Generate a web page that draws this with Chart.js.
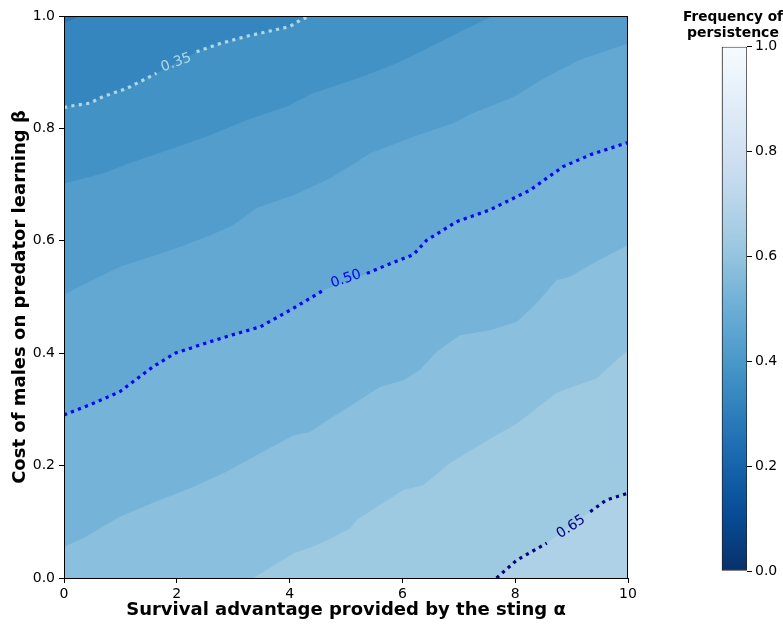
<!DOCTYPE html>
<html><head><meta charset="utf-8">
<script src="https://cdn.jsdelivr.net/npm/chart.js@4.4.1/dist/chart.umd.min.js"></script>
<style>
html,body{margin:0;padding:0;background:#fff;width:783px;height:624px;overflow:hidden;}
#main{position:absolute;left:0;top:0;}
#cbar{position:absolute;left:683px;top:0;}
</style></head><body>
<canvas id="main" width="783" height="624" style="width:783px;height:624px"></canvas>
<canvas id="cbar" width="100" height="624" style="width:100px;height:624px"></canvas>
<script>
// ---------------- DATA ----------------
// Axis ranges
const alphaRange = [0, 10];
const betaRange = [0, 1];
// Filled-contour levels (frequency of persistence)
const levels = [0.30, 0.35, 0.40, 0.45, 0.50, 0.55, 0.60, 0.65];
const levelStep = 0.05;
// Contour boundaries, as [alpha, beta] pairs (one array per level)
const contour030 = [[0,0.987],[0.28,1.0]];
const contour035 = [[0,0.837],[0.08,0.839],[0.46,0.845],[0.70,0.857],[1.11,0.871],[1.64,0.898],[2.35,0.9365],[2.77,0.951],[3.24,0.964],[3.77,0.976],[4.0,0.981],[4.18,0.992],[4.36,1.0]];
const contour040 = [[0,0.702],[0.70,0.720],[1.11,0.736],[2.0,0.767],[2.59,0.788],[3.24,0.815],[3.95,0.839],[4.4,0.862],[5.31,0.893],[5.90,0.916],[6.49,0.945],[7.08,0.975],[7.61,1.0]];
const contour045 = [[0,0.504],[0.3,0.52],[0.99,0.554],[2.0,0.587],[2.6,0.61],[3.0,0.628],[3.42,0.659],[4.07,0.681],[4.71,0.711],[5.25,0.744],[5.43,0.756],[6.19,0.785],[6.90,0.809],[7.2,0.825],[7.97,0.856],[8.56,0.892],[9.15,0.922],[10,0.951]];
const contour050 = [[0,0.29],[0.5,0.31],[0.99,0.3315],[1.58,0.376],[1.97,0.40],[2.59,0.4205],[3.0,0.433],[3.48,0.447],[4.07,0.48],[4.6,0.512],[5.37,0.542],[5.8,0.56],[6.19,0.575],[6.43,0.601],[6.96,0.634],[7.55,0.655],[8.26,0.69],[8.85,0.732],[9.33,0.753],[10,0.775]];
const contour055 = [[0,0.0557],[0.34,0.0706],[0.99,0.109],[1.6,0.135],[2.29,0.162],[2.88,0.189],[3.48,0.222],[4.07,0.254],[4.36,0.26],[4.72,0.284],[5.25,0.317],[5.60,0.340],[6.02,0.352],[6.31,0.370],[6.61,0.403],[7.02,0.432],[7.55,0.441],[8.03,0.456],[8.38,0.489],[8.73,0.530],[8.97,0.536],[9.44,0.563],[10,0.5925]];
const contour060 = [[3.36,0],[4.07,0.044],[4.42,0.056],[4.72,0.07],[5.07,0.088],[5.19,0.103],[6.02,0.157],[6.37,0.165],[6.84,0.204],[7.43,0.240],[8.03,0.275],[8.38,0.302],[8.73,0.329],[9.09,0.343],[9.44,0.355],[10,0.406]];
const contour065 = [[7.67,0],[8.03,0.032],[8.56,0.062],[9.33,0.118],[9.62,0.139],[10,0.151]];
const contours = [contour030, contour035, contour040, contour045, contour050, contour055, contour060, contour065];
// Labelled contour lines
const lineLevels = [0.35, 0.50, 0.65];
const lineLabels = ['0.35', '0.50', '0.65'];
const labelAlpha = [1.99, 5.0, 8.99];
const labelBeta = [0.917, 0.532, 0.091];
const gapFrom = [1.64, 4.6, 8.56];   // line break around the label (alpha)
const gapTo = [2.35, 5.37, 9.33];
// Colorbar ticks
const cbarTicks = [0, 0.2, 0.4, 0.6, 0.8, 1.0];
// Blues colormap (reversed in use)
const bluesStops = ['#f7fbff','#deebf7','#c6dbef','#9ecae1','#6baed6','#4292c6','#2171b5','#08519c','#08306b'];

// ---------------- STYLE ----------------
const FONT = "'DejaVu Sans', 'Liberation Sans', sans-serif";
const lineColors = ['#add8e6', '#0000ff', '#000080'];
const labelRotation = [-20, -19, -33];

function hexToRgb(h){ return [parseInt(h.slice(1,3),16),parseInt(h.slice(3,5),16),parseInt(h.slice(5,7),16)]; }
function blues(t){
  t = Math.max(0, Math.min(1, t));
  const pos = t * (bluesStops.length - 1);
  const i = Math.min(Math.floor(pos), bluesStops.length - 2);
  const f = pos - i;
  const a = hexToRgb(bluesStops[i]), b = hexToRgb(bluesStops[i+1]);
  const c = a.map((v,k) => Math.round(v + (b[k]-v)*f));
  return `rgb(${c[0]},${c[1]},${c[2]})`;
}
const cmapR = v => blues(1 - v);

function toPts(arr){ return arr.map(p => ({x:p[0], y:p[1]})); }
function fillPts(arr){
  const pts = toPts(arr);
  const first = pts[0], last = pts[pts.length-1];
  if (first.x > alphaRange[0]) pts.unshift({x: alphaRange[0], y: betaRange[0]});
  if (last.x < alphaRange[1]) pts.push({x: alphaRange[1], y: betaRange[1]});
  return pts;
}

const datasets = [];
// lowest band (fills whole area)
datasets.push({
  data: [{x: alphaRange[0], y: betaRange[1]}, {x: alphaRange[1], y: betaRange[1]}],
  backgroundColor: cmapR(levels[0] - levelStep/2), borderColor: 'transparent', borderWidth: 0,
  fill: 'start', pointRadius: 0, order: 100
});
contours.forEach((c, i) => {
  datasets.push({
    data: fillPts(c),
    backgroundColor: cmapR(levels[i] + levelStep/2), borderColor: 'transparent', borderWidth: 0,
    fill: 'start', pointRadius: 0, order: 90 - i
  });
});
lineLevels.forEach((lv, j) => {
  const src = contours[levels.findIndex(l => Math.abs(l - lv) < 1e-9)];
  const pts = [];
  src.forEach(p => {
    pts.push({x:p[0], y:p[1]});
    if (Math.abs(p[0] - gapFrom[j]) < 1e-9) pts.push({x: (gapFrom[j]+gapTo[j])/2, y: null});
  });
  datasets.push({
    data: pts, borderColor: lineColors[j], borderWidth: 3.2, borderDash: [3.2, 4.3],
    borderCapStyle: 'butt', fill: false, pointRadius: 0, spanGaps: false, order: 1
  });
});

const frame = {
  id: 'frame',
  afterDatasetsDraw(chart){
    const {ctx, chartArea:a, scales} = chart;
    ctx.save();
    ctx.font = `14px ${FONT}`;
    ctx.textAlign = 'center'; ctx.textBaseline = 'middle';
    lineLabels.forEach((t, j) => {
      const px = scales.x.getPixelForValue(labelAlpha[j]);
      const py = scales.y.getPixelForValue(labelBeta[j]);
      ctx.save();
      ctx.translate(px, py);
      ctx.rotate(labelRotation[j] * Math.PI / 180);
      ctx.fillStyle = lineColors[j];
      ctx.fillText(t, 0, 0);
      ctx.restore();
    });
    ctx.strokeStyle = '#000'; ctx.lineWidth = 1;
    ctx.strokeRect(Math.round(a.left)+0.5, Math.round(a.top)+0.5, Math.round(a.right-a.left)-1, Math.round(a.bottom-a.top));
    ctx.restore();
  }
};

new Chart(document.getElementById('main'), {
  type: 'line',
  data: { datasets },
  options: {
    responsive: false, animation: false, devicePixelRatio: 1,
    layout: { padding: { top: 16, right: 155, bottom: 0, left: 0 } },
    plugins: { legend: {display: false}, tooltip: {enabled: false}, filler: {propagate: false} },
    elements: { line: { tension: 0 } },
    scales: {
      x: {
        type: 'linear', min: alphaRange[0], max: alphaRange[1],
        ticks: { stepSize: 2, color: '#000', font: {family: FONT, size: 14}, padding: 3, maxRotation: 0 },
        grid: { drawOnChartArea: false, drawTicks: true, tickLength: 5, tickColor: '#000', color: '#000' },
        border: { display: false },
        title: { display: true, text: 'Survival advantage provided by the sting α', color: '#000',
                 font: {family: FONT, size: 18, weight: 'bold'}, padding: {top: 0, bottom: 3} },
        afterFit: s => { s.height = 46; }
      },
      y: {
        type: 'linear', min: betaRange[0], max: betaRange[1],
        ticks: { stepSize: 0.2, color: '#000', font: {family: FONT, size: 14}, padding: 4, callback: v => v.toFixed(1) },
        grid: { drawOnChartArea: false, drawTicks: true, tickLength: 5, tickColor: '#000', color: '#000' },
        border: { display: false },
        title: { display: true, text: 'Cost of males on predator learning β', color: '#000',
                 font: {family: FONT, size: 18, weight: 'bold'}, padding: {top: 10, bottom: 0} },
        afterFit: s => { s.width = 64; }
      }
    }
  },
  plugins: [frame]
});

// ---------------- COLORBAR ----------------
new Chart(document.getElementById('cbar'), {
  type: 'bar',
  data: { datasets: [{
    data: [{x: 51.5, y: betaRange[1]}],
    barThickness: 25, borderSkipped: false, borderWidth: 1, borderColor: '#222',
    backgroundColor: (c) => {
      const a = c.chart.chartArea; if (!a) return cmapR(0.5);
      const g = c.chart.ctx.createLinearGradient(0, a.bottom, 0, a.top);
      for (let k = 0; k <= 20; k++) g.addColorStop(k/20, cmapR(k/20));
      return g;
    }
  }]},
  options: {
    responsive: false, animation: false, devicePixelRatio: 1,
    layout: { padding: { top: 0, bottom: 53, left: 0, right: 0 } },
    plugins: {
      legend: {display: false}, tooltip: {enabled: false},
      title: { display: true, text: ['Frequency of', 'persistence'], color: '#000',
               font: {family: FONT, size: 14, weight: 'bold', lineHeight: 1.1}, padding: {top: 10, bottom: 6} }
    },
    scales: {
      x: { type: 'linear', min: 0, max: 64, offset: false, display: false },
      y: {
        position: 'right', min: 0, max: 1,
        afterBuildTicks: s => { s.ticks = cbarTicks.map(v => ({value: v})); },
        ticks: { color: '#000', font: {family: FONT, size: 14}, padding: 3, callback: v => Number(v).toFixed(1) },
        grid: { drawOnChartArea: false, drawTicks: true, tickLength: 5, tickColor: '#000', color: '#000' },
        border: { display: false },
        afterFit: s => { s.width = 36; }
      }
    }
  }
});
</script></body></html>
